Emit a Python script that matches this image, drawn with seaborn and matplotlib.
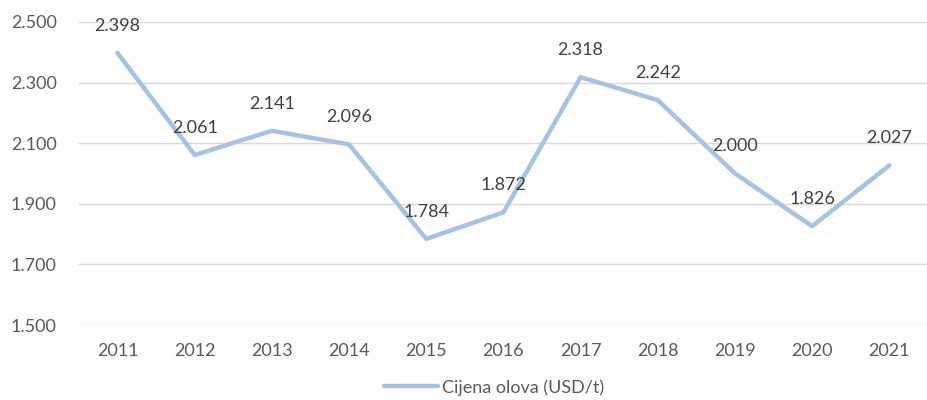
import matplotlib
matplotlib.use("Agg")
import matplotlib.pyplot as plt
import seaborn as sns
import pandas as pd


# Data

years = ["2011", "2012", "2013", "2014", "2015", "2016",
         "2017", "2018", "2019", "2020", "2021"]
prices = [2398, 2061, 2141, 2096, 1784, 1872, 2318, 2242, 2000, 1826, 2027]
y_ticks = [1500, 1700, 1900, 2100, 2300, 2500]

df = pd.DataFrame({"Godina": years, "Cijena olova (USD/t)": prices})


def fmt(v):
    return f"{v:,.0f}".replace(",", ".")


# Style

sns.set_theme(style="white")
plt.rcParams["font.family"] = ["Lato", "DejaVu Sans"]

line_color = "#A4C2E5"
text_color = "#595959"

fig = plt.figure(figsize=(9.28, 4.0), dpi=100)
ax = fig.add_axes([0.085, 0.1875, 0.915, 0.7575])

sns.lineplot(
    data=df,
    x="Godina",
    y="Cijena olova (USD/t)",
    ax=ax,
    color=line_color,
    linewidth=3.2,
    label="Cijena olova (USD/t)",
    sort=False
)

# Data labels

for i, v in enumerate(prices):
    ax.annotate(
        fmt(v),
        (i, v),
        xytext=(0, 19.5),
        textcoords="offset points",
        ha="center",
        va="center",
        fontsize=13,
        color="#404040"
    )

# Axes

ax.set_xlim(-0.5, len(years) - 0.5)
ax.set_ylim(1500, 2500)
ax.set_yticks(y_ticks)
ax.set_yticklabels([fmt(t) for t in y_ticks])
ax.yaxis.grid(True, color="#D9D9D9", linewidth=1)
ax.set_axisbelow(True)

ax.set_xlabel("")
ax.set_ylabel("")
for s in ax.spines.values():
    s.set_visible(False)

ax.tick_params(axis="both", length=0, labelsize=13, colors=text_color)
ax.tick_params(axis="x", pad=13)
ax.tick_params(axis="y", pad=16)

leg = ax.legend(
    loc="upper center",
    bbox_to_anchor=(0.489, -0.125),
    frameon=False,
    fontsize=13,
    handlelength=3.0,
    handletextpad=0.25
)
for t in leg.get_texts():
    t.set_color(text_color)

plt.savefig("out.png", dpi=100)
